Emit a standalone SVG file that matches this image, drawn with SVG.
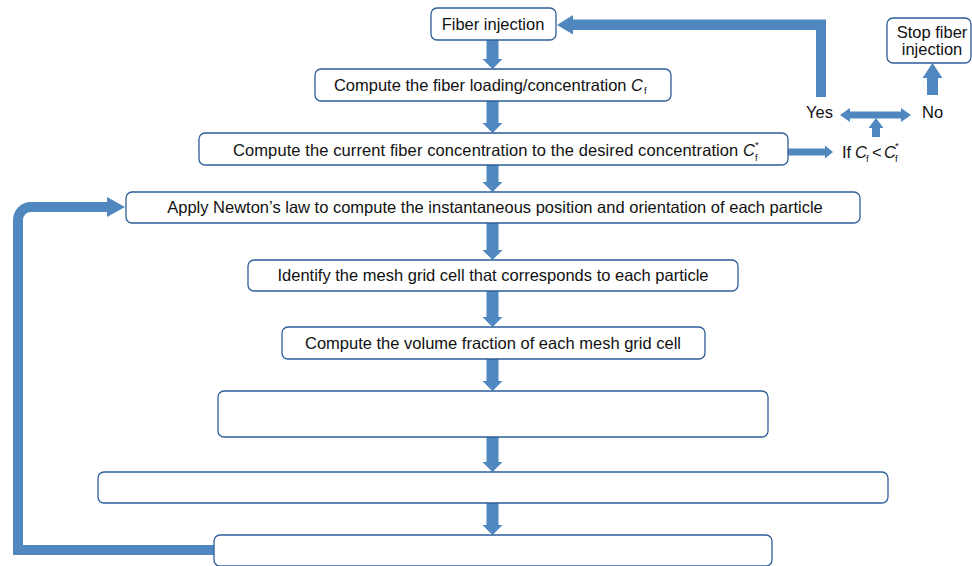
<svg xmlns="http://www.w3.org/2000/svg" width="972" height="566" viewBox="0 0 972 566">
<style>
.box{fill:#fff;stroke:#2E5E9A;stroke-width:1.3}
.t{font-family:"Liberation Sans",Arial,sans-serif;font-size:16.5px;fill:#111}
.c{text-anchor:middle}
.s{font-family:"Liberation Sans",Arial,sans-serif;font-size:9.5px;fill:#111}
.ar{fill:#4F87BE}
.ln{fill:none;stroke:#4F87BE}
</style>
<g id="connectors">
<polygon class="ar" points="486.5,40 498.5,40 498.5,59 502.5,59 492.5,69 482.5,59 486.5,59"/>
<polygon class="ar" points="486.5,101 498.5,101 498.5,123 502.5,123 492.5,133 482.5,123 486.5,123"/>
<polygon class="ar" points="486.5,165 498.5,165 498.5,182 502.5,182 492.5,192 482.5,182 486.5,182"/>
<polygon class="ar" points="486.5,223 498.5,223 498.5,250 502.5,250 492.5,260 482.5,250 486.5,250"/>
<polygon class="ar" points="486.5,291 498.5,291 498.5,317 502.5,317 492.5,327 482.5,317 486.5,317"/>
<polygon class="ar" points="486.5,359 498.5,359 498.5,381 502.5,381 492.5,391 482.5,381 486.5,381"/>
<polygon class="ar" points="486.5,437 498.5,437 498.5,462 502.5,462 492.5,472 482.5,462 486.5,462"/>
<polygon class="ar" points="486.5,503 498.5,503 498.5,525 502.5,525 492.5,535 482.5,525 486.5,525"/>
<polygon class="ar" points="816,97 826,97 826,19.5 573,19.5 573,15 557,25 573,34.5 573,30 816,30"/>
<polygon class="ar" points="788,148.5 825,148.5 825,145.5 833,152 825,158.5 825,155.5 788,155.5"/>
<polygon class="ar" points="872,137 880,137 880,128 883.5,128 876,118 868.5,128 872,128"/>
<polygon class="ar" points="840,115 850,108 850,111.5 901,111.5 901,108 911,115 901,122 901,118.5 850,118.5 850,122"/>
<polygon class="ar" points="927,95 938,95 938,78 942.5,78 932.5,63 922.5,78 927,78"/>
<path class="ln" stroke-width="10" d="M214,550 H18 V220 A13,13 0 0 1 31,207 H108"/>
<polygon class="ar" points="107,197 125,207 107,217"/>
</g>
<g id="n1">
<rect class="box" x="431" y="8" width="125" height="32" rx="6"/>
<text class="t c" x="493" y="30">Fiber injection</text>
</g>
<g id="n2">
<rect class="box" x="315" y="69" width="356" height="32" rx="6"/>
<text class="t" x="643" y="91" text-anchor="end">Compute the fiber loading/concentration <tspan font-style="italic">C</tspan></text>
<text class="s" x="644" y="94">f</text>
</g>
<g id="n3">
<rect class="box" x="199" y="133" width="589" height="32" rx="6"/>
<text class="t" x="755" y="156" text-anchor="end" textLength="522">Compute the current fiber concentration to the desired concentration <tspan font-style="italic">C</tspan></text>
<text class="s" x="755" y="161">f</text>
<text class="s" x="755" y="148" font-size="8.5">*</text>
</g>
<g id="n4">
<rect class="box" x="126" y="192" width="734" height="31" rx="6"/>
<text class="t c" x="495" y="213">Apply Newton’s law to compute the instantaneous position and orientation of each particle</text>
</g>
<g id="n5">
<rect class="box" x="248" y="260" width="490" height="31" rx="6"/>
<text class="t c" x="493" y="281">Identify the mesh grid cell that corresponds to each particle</text>
</g>
<g id="n6">
<rect class="box" x="282" y="327" width="423" height="32" rx="6"/>
<text class="t c" x="493" y="349">Compute the volume fraction of each mesh grid cell</text>
</g>
<g id="n7">
<rect class="box" x="218" y="391" width="550" height="46" rx="6"/>
</g>
<g id="n8">
<rect class="box" x="98" y="472" width="790" height="31" rx="6"/>
</g>
<g id="n9">
<rect class="box" x="214" y="535" width="558" height="31" rx="6"/>
</g>
<g id="n10">
<rect class="box" x="887" y="18" width="84" height="45" rx="6"/>
<text class="t c" x="932" y="38">Stop fiber</text>
<text class="t c" x="932" y="55">injection</text>
</g>
<g id="yes"><text class="t" x="806" y="118">Yes</text></g>
<g id="no"><text class="t" x="922" y="118">No</text></g>
<g id="cond">
<text class="t" x="842" y="158">If</text>
<text class="t" x="855" y="158" font-style="italic">C</text>
<text class="s" x="866" y="162">f</text>
<text class="t" x="872" y="158">&lt;</text>
<text class="t" x="884" y="158" font-style="italic">C</text>
<text class="s" x="895" y="162">f</text>
<text class="s" x="895" y="149" font-size="8.5">*</text>
</g>
</svg>
